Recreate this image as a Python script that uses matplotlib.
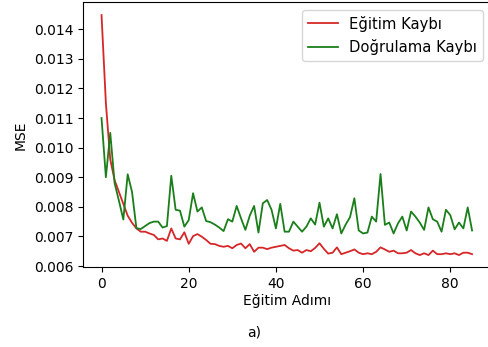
import matplotlib
matplotlib.use("Agg")
import matplotlib.pyplot as plt
import numpy as np

steps = list(range(86))

train_loss = [
    0.01448, 0.0115, 0.0096, 0.0089, 0.0085, 0.0081, 0.0077, 0.00746, 0.00727, 0.00716,
    0.00716, 0.0071, 0.00705, 0.0069, 0.00693, 0.00685, 0.00727, 0.00693, 0.0069, 0.00714,
    0.00675, 0.00701, 0.00708, 0.00699, 0.00688, 0.00675, 0.00674, 0.00668, 0.00665, 0.00668,
    0.0066, 0.00671, 0.00676, 0.0066, 0.00674, 0.00648, 0.00662, 0.00662, 0.00657, 0.00662,
    0.00665, 0.00668, 0.00671, 0.0066, 0.00652, 0.00654, 0.00645, 0.00654, 0.0065, 0.00661,
    0.00677, 0.00658, 0.00642, 0.00645, 0.00663, 0.0064, 0.00645, 0.0065, 0.00656, 0.00645,
    0.0064, 0.00643, 0.0064, 0.00648, 0.00663, 0.00656, 0.00648, 0.00652, 0.00643, 0.00643,
    0.00645, 0.00654, 0.00643, 0.00637, 0.00643, 0.00637, 0.00652, 0.0064, 0.0064, 0.00643,
    0.0064, 0.00643, 0.00637, 0.00645, 0.00645, 0.0064,
]

val_loss = [
    0.0110, 0.0090, 0.01050, 0.0088, 0.0082, 0.00757, 0.0091, 0.0085, 0.00728, 0.00725,
    0.00735, 0.00745, 0.0075, 0.0075, 0.0073, 0.00735, 0.00905, 0.0079, 0.00787, 0.00733,
    0.00755, 0.00846, 0.00784, 0.00798, 0.00752, 0.00748, 0.0074, 0.0073, 0.00718, 0.00758,
    0.0075, 0.00803, 0.00761, 0.00722, 0.0077, 0.00803, 0.00713, 0.00812, 0.00823, 0.0079,
    0.00727, 0.0081, 0.00716, 0.00716, 0.0075, 0.00733, 0.00716, 0.00733, 0.00761, 0.0074,
    0.00814, 0.00733, 0.00761, 0.00727, 0.00775, 0.0071, 0.0074, 0.00765, 0.00829, 0.0072,
    0.0071, 0.00713, 0.00767, 0.0075, 0.00911, 0.00739, 0.00747, 0.0071, 0.00744, 0.00767,
    0.0072, 0.00784, 0.00767, 0.00747, 0.00722, 0.00798, 0.00758, 0.0075, 0.00716, 0.0079,
    0.00772, 0.00724, 0.00747, 0.00727, 0.00798, 0.0072,
]

plt.rcParams['font.family'] = ['DejaVu Sans']
plt.rcParams['font.size'] = 10

fig = plt.figure(figsize=(4.89, 3.47), dpi=100)
ax = fig.add_axes([83 / 489, (347 - 267.2) / 347, (490.6 - 83) / 489, (267.2 - 2.3) / 347])

ax.plot(steps, train_loss, color='#d62728', lw=1.3, label='Eğitim Kaybı')
ax.plot(steps, val_loss, color='#1a7f1a', lw=1.3, label='Doğrulama Kaybı')

ax.set_xlim(-4.25, 89.25)
ax.set_ylim(0.00596, 0.01491)
ax.set_xticks([0, 20, 40, 60, 80])
ax.set_yticks([0.006, 0.007, 0.008, 0.009, 0.010, 0.011, 0.012, 0.013, 0.014])
ax.set_yticklabels(['0.006', '0.007', '0.008', '0.009', '0.010', '0.011', '0.012', '0.013', '0.014'])

ax.set_xlabel('Eğitim Adımı', labelpad=2)
ax.set_ylabel('MSE')
ax.legend(loc='upper right', fontsize=10.6)

fig.text(254 / 489, 1 - 333 / 347, 'a)', ha='center', va='center', fontsize=10)

fig.savefig('out.png', dpi=100)
